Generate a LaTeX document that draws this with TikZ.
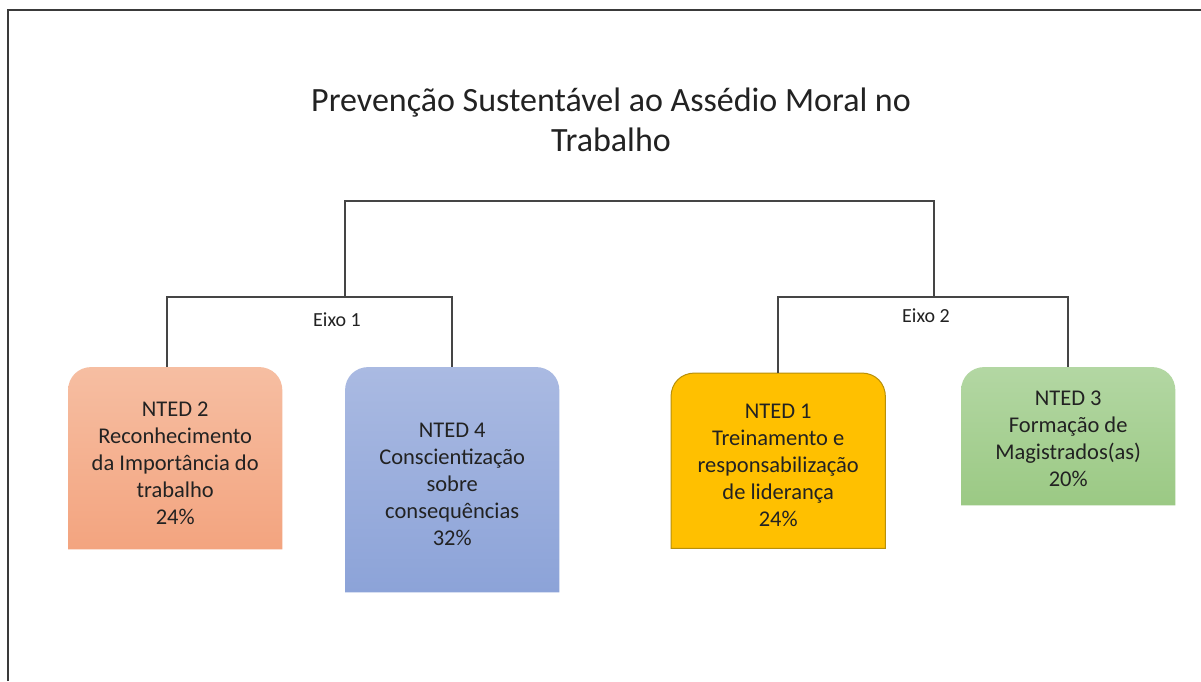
\documentclass[tikz,border=0pt]{standalone}
\usepackage{fontspec}
\setmainfont{Carlito}
\usetikzlibrary{calc,backgrounds}
\definecolor{linec}{HTML}{454545}
\definecolor{framec}{HTML}{3A3A3A}
\definecolor{txtc}{HTML}{222222}
\definecolor{orA}{HTML}{F6BEA2}
\definecolor{orB}{HTML}{F3A47F}
\definecolor{blA}{HTML}{AABAE2}
\definecolor{blB}{HTML}{8CA3D8}
\definecolor{grA}{HTML}{B3D7A3}
\definecolor{grB}{HTML}{9BC984}
\definecolor{ylw}{HTML}{FFC000}
\definecolor{ylwB}{HTML}{B8900A}
\newcommand\ntedshape[2]{\path[#2] (#1.south west) -- ([yshift=-24pt]#1.north west) .. controls ([yshift=-10pt]#1.north west) and ([xshift=10pt]#1.north west) .. ([xshift=24pt]#1.north west) -- ([xshift=-24pt]#1.north east) .. controls ([xshift=-10pt]#1.north east) and ([yshift=-10pt]#1.north east) .. ([yshift=-24pt]#1.north east) -- (#1.south east) -- cycle;}
\tikzset{
  ntedbox/.style={minimum width=214pt, inner sep=0pt, anchor=north west},
  boxtxt/.style={align=center, text=txtc, font=\fontsize{22.5}{27}\selectfont, yshift=-5pt},
  conn/.style={draw=linec, line width=1.5pt},
  eixo/.style={text=txtc, font=\fontsize{20}{24}\selectfont}
}
\begin{document}
\begin{tikzpicture}[x=1pt,y=-1pt]
\useasboundingbox (0,0) rectangle (1201,681);
% title
\node[align=center, text=txtc, font=\fontsize{34}{40}\selectfont] (title) at (611,120) {Prevenção Sustentável ao Assédio Moral no\\Trabalho};
% boxes
\node[ntedbox, minimum height=182pt, label={[boxtxt]center:NTED 2\\Reconhecimento\\da Importância do\\trabalho\\24\%}] (n2) at (68,367) {};
\node[ntedbox, minimum height=225pt, label={[boxtxt]center:NTED 4\\Conscientização\\sobre\\consequências\\32\%}] (n4) at (345,367) {};
\node[ntedbox, minimum height=175pt, label={[boxtxt]center:NTED 1\\Treinamento e\\responsabilização\\de liderança\\24\%}] (n1) at (671,373) {};
\node[ntedbox, minimum height=138pt, label={[boxtxt, yshift=2pt]center:NTED 3\\Formação de\\Magistrados(as)\\20\%}] (n3) at (961,367) {};
% connectors
\coordinate (e1) at (345,297);
\coordinate (e2) at (934,297);
\coordinate (topbar) at (640,201);
\draw[conn] (e1) |- (topbar) -| (e2);
\draw[conn] ([xshift=-8pt]n2.north) |- (e1) -| (n4.north);
\draw[conn] (n1.north) |- (e2) -| (n3.north);
\node[eixo] (l1) at (337,320) {Eixo 1};
\node[eixo] (l2) at (926,316) {Eixo 2};
\begin{scope}[on background layer]
\fill[white] (0,0) rectangle (1201,681);
\ntedshape{n2}{top color=orA, bottom color=orB}
\ntedshape{n4}{top color=blA, bottom color=blB}
\ntedshape{n1}{fill=ylw, draw=ylwB, line width=1pt}
\ntedshape{n3}{top color=grA, bottom color=grB}
\end{scope}
% frame
\draw[framec, line width=2pt] (8,681) -- (8,10) -- (1201,10);
\end{tikzpicture}
\end{document}
